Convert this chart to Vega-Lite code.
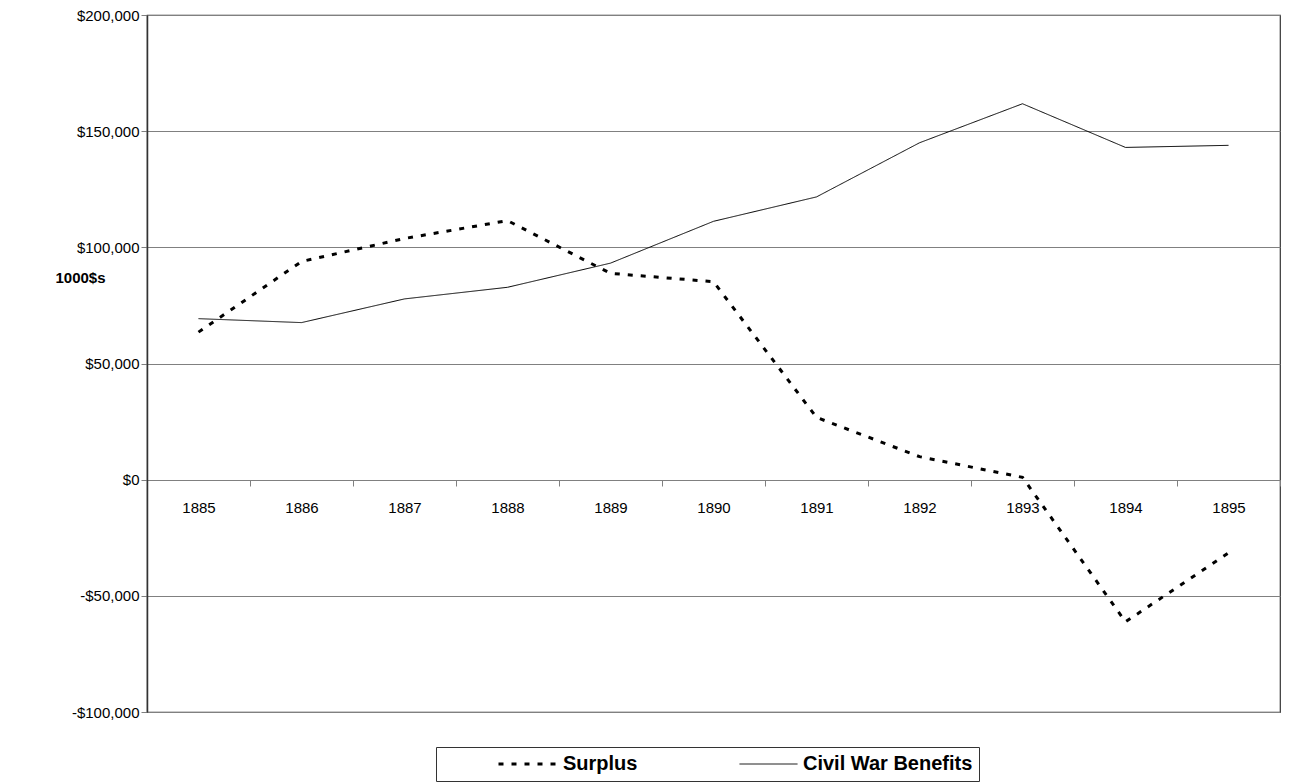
{
  "$schema": "https://vega.github.io/schema/vega-lite/v6.json",
  "width": 1133,
  "height": 697,
  "autosize": {"type": "none"},
  "padding": {"left": 147, "top": 15, "right": 13, "bottom": 71},
  "background": "white",
  "config": {
    "font": "Liberation Sans",
    "view": {"stroke": "#333333", "strokeWidth": 1.2},
    "axis": {"labelFont": "Liberation Sans", "titleFont": "Liberation Sans", "labelColor": "black", "titleColor": "black"}
  },
  "data": {
    "values": [
      {"year": "1885", "series": "Surplus", "value": 63500},
      {"year": "1886", "series": "Surplus", "value": 93900},
      {"year": "1887", "series": "Surplus", "value": 103800},
      {"year": "1888", "series": "Surplus", "value": 111500},
      {"year": "1889", "series": "Surplus", "value": 88800},
      {"year": "1890", "series": "Surplus", "value": 85200},
      {"year": "1891", "series": "Surplus", "value": 26800},
      {"year": "1892", "series": "Surplus", "value": 9900},
      {"year": "1893", "series": "Surplus", "value": 1000},
      {"year": "1894", "series": "Surplus", "value": -61200},
      {"year": "1895", "series": "Surplus", "value": -31500},
      {"year": "1885", "series": "Civil War Benefits", "value": 69300},
      {"year": "1886", "series": "Civil War Benefits", "value": 67600},
      {"year": "1887", "series": "Civil War Benefits", "value": 77800},
      {"year": "1888", "series": "Civil War Benefits", "value": 82800},
      {"year": "1889", "series": "Civil War Benefits", "value": 93200},
      {"year": "1890", "series": "Civil War Benefits", "value": 111200},
      {"year": "1891", "series": "Civil War Benefits", "value": 121700},
      {"year": "1892", "series": "Civil War Benefits", "value": 145000},
      {"year": "1893", "series": "Civil War Benefits", "value": 161800},
      {"year": "1894", "series": "Civil War Benefits", "value": 143000},
      {"year": "1895", "series": "Civil War Benefits", "value": 143900}
    ]
  },
  "mark": {"type": "line", "color": "black", "strokeCap": "butt"},
  "encoding": {
    "x": {
      "field": "year",
      "type": "ordinal",
      "bandPosition": 0.5,
      "scale": {"type": "band", "paddingInner": 0, "paddingOuter": 0},
      "axis": {
        "title": null,
        "orient": "bottom",
        "offset": -232,
        "grid": false,
        "labelAngle": 0,
        "labelFontSize": 15,
        "labelPadding": 14,
        "tickBand": "extent",
        "tickSize": 6,
        "tickColor": "#808080",
        "domainColor": "#808080",
        "domainWidth": 1.2
      }
    },
    "y": {
      "field": "value",
      "type": "quantitative",
      "scale": {"domain": [-100000, 200000], "nice": false, "zero": false},
      "axis": {
        "values": [-100000, -50000, 0, 50000, 100000, 150000, 200000],
        "labelExpr": "datum.value < 0 ? '-$' + format(-datum.value, ',') : '$' + format(datum.value, ',')",
        "labelFontSize": 15,
        "labelPadding": 2,
        "grid": true,
        "gridColor": "#808080",
        "gridWidth": 1.2,
        "tickSize": 6,
        "tickColor": "#808080",
        "domainColor": "#333333",
        "domainWidth": 1.5,
        "title": "1000$s",
        "titleAngle": 0,
        "titleFontSize": 15,
        "titleFontWeight": "bold",
        "titleX": -67,
        "titleY": 262,
        "titleAlign": "center",
        "titleBaseline": "middle"
      }
    },
    "strokeDash": {
      "field": "series",
      "type": "nominal",
      "scale": {"domain": ["Surplus", "Civil War Benefits"], "range": [[5, 8], [1, 0]]},
      "legend": {
        "title": null,
        "orient": "none",
        "direction": "horizontal",
        "legendX": 289,
        "legendY": 732,
        "strokeColor": "#333333",
        "padding": 6,
        "labelFontSize": 20,
        "labelFontWeight": "bold",
        "labelColor": "black",
        "labelFont": "Liberation Sans",
        "labelLimit": 400,
        "symbolType": "stroke",
        "symbolSize": 3364,
        "symbolStrokeWidth": 1.5,
        "symbolStrokeColor": "black",
        "symbolOffset": 55,
        "labelOffset": 5,
        "clipHeight": 22,
        "columnPadding": 46
      }
    },
    "strokeWidth": {
      "field": "series",
      "type": "nominal",
      "scale": {"domain": ["Surplus", "Civil War Benefits"], "range": [3, 1]},
      "legend": null
    }
  }
}
